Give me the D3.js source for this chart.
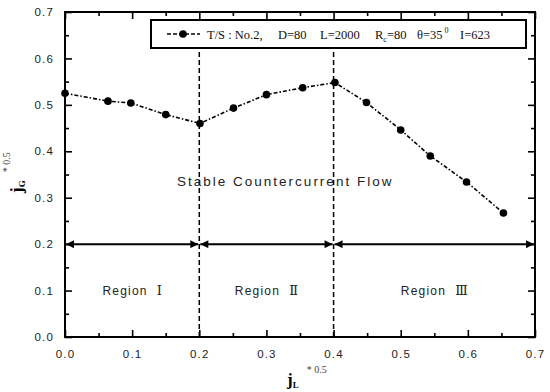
<!DOCTYPE html>
<html>
<head>
<meta charset="utf-8">
<script src="https://cdn.jsdelivr.net/npm/d3@7"></script>
<style>
  body { margin: 0; background: #fff; }
  .tick text { font-family: "Liberation Sans", Arial, sans-serif; font-size: 11.5px; letter-spacing: 1.2px; fill: #222; }
</style>
</head>
<body>
<div class="chart"></div>
<script>
var svgWidth = 550;
var svgHeight = 392;

var margin = { top: 12, right: 15, bottom: 55, left: 65 };
var width = svgWidth - margin.left - margin.right;
var height = svgHeight - margin.top - margin.bottom;

// data
var jL = [0.0, 0.064, 0.098, 0.150, 0.201, 0.251, 0.300, 0.354, 0.402, 0.449, 0.500, 0.544, 0.598, 0.653];
var jG = [0.525, 0.508, 0.504, 0.479, 0.460, 0.493, 0.522, 0.537, 0.548, 0.505, 0.446, 0.390, 0.334, 0.267];
var xTicks = [0.0, 0.1, 0.2, 0.3, 0.4, 0.5, 0.6, 0.7];
var yTicks = [0.0, 0.1, 0.2, 0.3, 0.4, 0.5, 0.6, 0.7];
var minorTicks = [0.05, 0.15, 0.25, 0.35, 0.45, 0.55, 0.65];
var boundaries = [0.2, 0.4];
var regions = [[0.0, 0.2], [0.2, 0.4], [0.4, 0.7]];
var regionNames = ["Ⅰ", "Ⅱ", "Ⅲ"];
var regionLevel = 0.2;

var data = jL.map((x, i) => ({ x: x, y: jG[i] }));

var svg = d3.select(".chart")
  .append("svg")
  .attr("width", svgWidth)
  .attr("height", svgHeight);

svg.append("defs").append("marker")
  .attr("id", "arrow")
  .attr("viewBox", "0 0 10 10")
  .attr("refX", 10)
  .attr("refY", 5)
  .attr("markerWidth", 10)
  .attr("markerHeight", 8)
  .attr("markerUnits", "userSpaceOnUse")
  .attr("orient", "auto-start-reverse")
  .append("path")
  .attr("d", "M0,0 L10,5 L0,10 Z")
  .attr("fill", "#000");

var chartGroup = svg.append("g")
  .attr("transform", `translate(${margin.left}, ${margin.top})`);

var x = d3.scaleLinear().domain([0, 0.7]).range([0, width]);
var y = d3.scaleLinear().domain([0, 0.7]).range([height, 0]);

// axes, ticks inward
function addAxis(axis, tf) {
  var g = chartGroup.append("g").attr("transform", tf).call(axis);
  g.select(".domain").remove();
  g.selectAll("line").attr("stroke", "#000").attr("stroke-width", 1.6);
  return g;
}

addAxis(d3.axisBottom(x).tickValues(xTicks).tickSize(-7).tickPadding(13).tickFormat(d3.format(".1f")), `translate(0,${height})`);
addAxis(d3.axisBottom(x).tickValues(minorTicks).tickSize(-4).tickFormat(""), `translate(0,${height})`);
addAxis(d3.axisTop(x).tickValues(xTicks).tickSize(-7).tickFormat(""), "translate(0,0)");
addAxis(d3.axisTop(x).tickValues(minorTicks).tickSize(-4).tickFormat(""), "translate(0,0)");
addAxis(d3.axisLeft(y).tickValues(yTicks).tickSize(-7).tickPadding(11).tickFormat(d3.format(".1f")), "translate(0,0)");
addAxis(d3.axisLeft(y).tickValues(minorTicks).tickSize(-4).tickFormat(""), "translate(0,0)");
addAxis(d3.axisRight(y).tickValues(yTicks).tickSize(-7).tickFormat(""), `translate(${width},0)`);
addAxis(d3.axisRight(y).tickValues(minorTicks).tickSize(-4).tickFormat(""), `translate(${width},0)`);

chartGroup.append("rect")
  .attr("width", width)
  .attr("height", height)
  .attr("fill", "none")
  .attr("stroke", "#000")
  .attr("stroke-width", 2);

// legend box
var legend = chartGroup.append("g").attr("transform", "translate(86, 8)");
legend.append("rect")
  .attr("width", 375)
  .attr("height", 28)
  .attr("fill", "#fff")
  .attr("stroke", "#000")
  .attr("stroke-width", 2);
legend.append("line")
  .attr("x1", 16).attr("x2", 49).attr("y1", 14).attr("y2", 14)
  .attr("stroke", "#000").attr("stroke-width", 1.6)
  .attr("stroke-dasharray", "4,2");
legend.append("circle").attr("cx", 32).attr("cy", 14).attr("r", 3.8).attr("fill", "#000");
var lt = legend.append("text")
  .attr("y", 18.5)
  .style("font-family", "'Liberation Serif', 'Times New Roman', serif")
  .style("font-size", "12.5px")
  .attr("fill", "#111");
lt.append("tspan").attr("x", 56).text("T/S : No.2,");
lt.append("tspan").attr("x", 127).text("D=80");
lt.append("tspan").attr("x", 169).text("L=2000");
lt.append("tspan").attr("x", 224).text("R");
lt.append("tspan").attr("dy", 3).style("font-size", "8px").text("c");
lt.append("tspan").attr("dy", -3).text("=80");
lt.append("tspan").attr("x", 266).text("θ=35");
lt.append("tspan").attr("dx", 2).attr("dy", -6).style("font-size", "8px").text("0");
lt.append("tspan").attr("x", 309).attr("dy", 6).text("I=623");

// region boundaries
chartGroup.selectAll(".boundary")
  .data(boundaries)
  .enter()
  .append("line")
  .attr("x1", d => x(d)).attr("x2", d => x(d))
  .attr("y1", 40).attr("y2", height)
  .attr("stroke", "#000")
  .attr("stroke-width", 1.5)
  .attr("stroke-dasharray", "5,3");

// arrows at jG = 0.2
chartGroup.selectAll(".arrow")
  .data(regions)
  .enter()
  .append("line")
  .attr("x1", d => x(d[0]) + 1).attr("x2", d => x(d[1]) - 1)
  .attr("y1", y(regionLevel)).attr("y2", y(regionLevel))
  .attr("stroke", "#000")
  .attr("stroke-width", 2)
  .attr("marker-start", "url(#arrow)")
  .attr("marker-end", "url(#arrow)");

// region labels
var rl = chartGroup.selectAll(".region")
  .data(regions)
  .enter()
  .append("text")
  .attr("x", d => x((d[0] + d[1]) / 2))
  .attr("y", y(0.1) + 4)
  .attr("text-anchor", "middle")
  .style("font-family", "'Liberation Sans', Arial, sans-serif")
  .style("font-size", "12px")
  .style("letter-spacing", "1.2px")
  .attr("fill", "#222");
rl.append("tspan").text("Region\u00a0\u00a0");
rl.append("tspan")
  .style("font-family", "'DejaVu Serif', serif")
  .style("font-size", "13px")
  .style("letter-spacing", "0px")
  .text((d, i) => regionNames[i]);

chartGroup.append("text")
  .attr("x", x(0.328))
  .attr("y", y(0.325))
  .attr("text-anchor", "middle")
  .style("font-family", "'Liberation Sans', Arial, sans-serif")
  .style("font-size", "13.5px")
  .style("letter-spacing", "2px")
  .attr("fill", "#222")
  .text("Stable Countercurrent Flow");

// data line and points
var line = d3.line().x(d => x(d.x)).y(d => y(d.y));
chartGroup.append("path")
  .datum(data)
  .attr("d", line)
  .attr("fill", "none")
  .attr("stroke", "#000")
  .attr("stroke-width", 1.6)
  .attr("stroke-dasharray", "4,2,1.5,2");

chartGroup.selectAll(".pt")
  .data(data)
  .enter()
  .append("circle")
  .attr("cx", d => x(d.x))
  .attr("cy", d => y(d.y))
  .attr("r", 3.8)
  .attr("fill", "#000");

// axis titles
var xl = svg.append("text")
  .attr("x", 287).attr("y", 385)
  .style("font-family", "'Liberation Serif', serif")
  .attr("fill", "#000");
xl.append("tspan").style("font-size", "17px").style("font-weight", "bold").text("j");
xl.append("tspan").attr("dy", 3).style("font-size", "9px").style("font-weight", "bold").text("L");
xl.append("tspan").attr("dx", 8).attr("dy", -15).style("font-size", "10px").attr("fill", "#444").text("* 0.5");

var yl = svg.append("text")
  .attr("transform", "translate(22, 193) rotate(-90)")
  .style("font-family", "'Liberation Serif', serif")
  .attr("fill", "#000");
yl.append("tspan").style("font-size", "17px").style("font-weight", "bold").text("j");
yl.append("tspan").attr("dy", 3).style("font-size", "9px").style("font-weight", "bold").text("G");
yl.append("tspan").attr("dx", 8).attr("dy", -15).style("font-size", "10px").attr("fill", "#444").text("* 0.5");
</script>
</body>
</html>
